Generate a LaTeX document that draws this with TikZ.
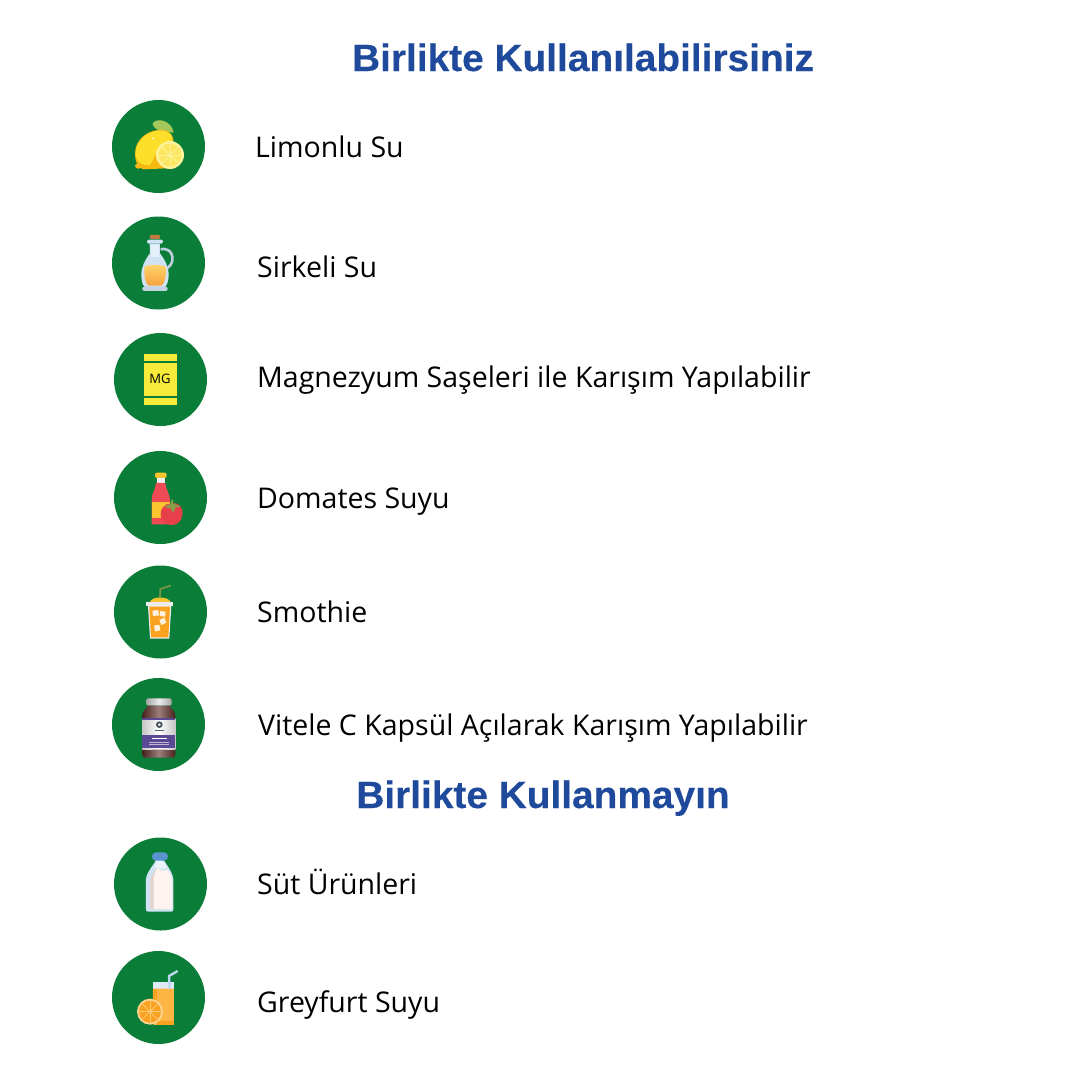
\documentclass[tikz,border=0pt]{standalone}
\usepackage{fontspec}
\setmainfont{Open Sans}
\newfontfamily\titlefont{Liberation Sans Bold}[FakeStretch=1.022,FakeBold=0.25]
\definecolor{grn}{HTML}{0A7D39}
\definecolor{ttl}{HTML}{1F4A9C}
\definecolor{lemA}{HTML}{FDDE2A}
\definecolor{lemB}{HTML}{F5B912}
\definecolor{lemC}{HTML}{FCF29A}
\definecolor{leafc}{HTML}{A5C85A}
\definecolor{glass}{HTML}{CFE3F5}
\definecolor{oil}{HTML}{FFD56B}
\definecolor{oilb}{HTML}{F7A23E}
\definecolor{cork}{HTML}{C27A3E}
\definecolor{mgy}{HTML}{F6EA3A}
\definecolor{ketch}{HTML}{EF4B55}
\definecolor{lab}{HTML}{FCC52F}
\definecolor{tom}{HTML}{E8404A}
\definecolor{orng}{HTML}{F9A21F}
\definecolor{orl}{HTML}{FDB643}
\definecolor{brn}{HTML}{5A2A24}
\definecolor{purp}{HTML}{5A4A96}
\definecolor{milk}{HTML}{FDF3EF}
\definecolor{capblue}{HTML}{5B93D1}
\tikzset{
 disc/.style={circle,fill=grn,draw=none,minimum size=93pt,inner sep=0pt},
 lbl/.style={anchor=base west,inner sep=0pt,text=black,font=\fontsize{28.5}{32}\selectfont},
 ttlb/.style={anchor=base,inner sep=0pt,text=ttl,font=\titlefont\fontsize{38}{42}\selectfont},
 zm/.style 2 args={shift={(#1,#2)},x=.3333pt,y=-.3333pt}
}
\begin{document}
\begin{tikzpicture}[x=1pt,y=-1pt]
\useasboundingbox (0,0) rectangle (1080,1080);
\fill[white] (0,0) rectangle (1080,1080);
\node[ttlb] (t1) at (583,71) {Birlikte Kullanılabilirsiniz};
\node[ttlb] (t2) at (543,808) {Birlikte Kullanmayın};
\node[disc] (c1) at (158.5,146.5) {};
\node[disc] (c2) at (158.5,263) {};
\node[disc] (c3) at (160.5,379.5) {};
\node[disc] (c4) at (160.5,497.5) {};
\node[disc] (c5) at (160.5,612) {};
\node[disc] (c6) at (158.5,724.5) {};
\node[disc] (c7) at (160.5,884) {};
\node[disc] (c8) at (158.5,997.5) {};
\node[lbl] (l1) at (255,157) {Limonlu Su};
\node[lbl] (l2) at (257,277) {Sirkeli Su};
\node[lbl] (l3) at (257,387) {Magnezyum Saşeleri ile Karışım Yapılabilir};
\node[lbl] (l4) at (257,508) {Domates Suyu};
\node[lbl] (l5) at (257,622) {Smothie};
\node[lbl] (l6) at (258,735) {Vitele C Kapsül Açılarak Karışım Yapılabilir};
\node[lbl] (l7) at (257,894) {Süt Ürünleri};
\node[lbl] (l8) at (257,1012) {Greyfurt Suyu};
% lemon
\begin{scope}[zm={100}{90}]
\fill[leafc] (158,100) .. controls (170,82) and (215,90) .. (221,128) .. controls (190,125) and (160,122) .. (158,100);
\fill[lemB] (105,226) .. controls (106,238) and (118,238) .. (126,232) -- (118,215) -- cycle;
\fill[lemB] (105,190) .. controls (105,145) and (150,115) .. (190,120) .. controls (215,125) and (222,140) .. (220,160) -- (200,235) -- (130,238) .. controls (115,235) and (105,215) .. (105,190);
\fill[lemA] (107,190) .. controls (107,148) and (150,118) .. (190,122) .. controls (208,125) and (218,135) .. (218,155) -- (180,170) .. controls (165,190) and (160,210) .. (150,225) .. controls (125,228) and (108,215) .. (107,190);
\fill[white] (160,145) circle (3);
\fill[lemC] (210,195) circle (42);
\fill[lemA!75!white] (210,195) circle (34);
\foreach \a in {0,45,...,315} \draw[lemC,line width=.8pt] (210,195) -- ++(\a:33);
\end{scope}
% oil jug
\begin{scope}[zm={100}{90}]
\draw[glass!80!gray,line width=2.6pt] (182,478) .. controls (225,468) and (230,530) .. (192,538);
\fill[cork,rounded corners=1pt] (150,435) rectangle (180,447);
\fill[glass,rounded corners=2pt] (141,449) rectangle (189,461);
\fill[glass] (149,461) -- (180,461) -- (180,490) .. controls (195,510) and (206,530) .. (206,555) .. controls (206,575) and (200,585) .. (195,592) -- (135,592) .. controls (128,585) and (124,575) .. (124,555) .. controls (124,530) and (135,510) .. (150,490) -- cycle;
\fill[glass!85!gray,rounded corners=2pt] (127,590) rectangle (203,603);
\fill[white!50!glass] (152,466) rectangle (178,500);
\shade[top color=oil,bottom color=oilb] (134,530) .. controls (150,523) and (180,523) .. (197,530) .. controls (199,560) and (195,578) .. (185,587) -- (145,587) .. controls (135,578) and (131,558) .. (134,530);
\end{scope}
% MG
\begin{scope}[zm={100}{325}]
\fill[mgy] (132,87) rectangle (231,108);
\fill[mgy] (132,114) rectangle (231,213);
\fill[mgy] (132,219) rectangle (231,241);
\node[inner sep=0pt,font=\fontsize{13}{14}\selectfont,text=black] (mg) at (180,163) {MG};
\end{scope}
% ketchup + tomato
\begin{scope}[zm={100}{325}]
\fill[lab,rounded corners=2pt] (165,443) rectangle (200,459);
\fill[white!88!gray] (170,459) rectangle (195,474);
\fill[ketch] (168,474) -- (196,474) .. controls (198,495) and (210,505) .. (210,530) -- (210,598) -- (155,598) -- (155,525) .. controls (155,505) and (166,495) .. (168,474);
\fill[lab] (155,530) rectangle (210,578);
\fill[tom] (215,535) .. controls (240,532) and (250,550) .. (247,570) .. controls (245,590) and (230,600) .. (215,600) .. controls (198,600) and (182,590) .. (182,567) .. controls (182,548) and (195,535) .. (215,535);
\fill[leafc!80!black] (192,545) -- (212,537) -- (215,523) -- (220,525) -- (219,536) -- (242,544) -- (226,548) -- (220,564) -- (212,550) -- cycle;
\end{scope}
% smoothie
\begin{scope}[zm={100}{560}]
\draw[leafc!75!black,line width=1.7pt] (180,112) -- (181,87) -- (212,77);
\fill[lab] (150,126) .. controls (155,108) and (205,108) .. (212,126) -- cycle;
\fill[white!85!gray] (138,126) rectangle (220,138);
\fill[white!85!gray] (144,138) -- (214,138) -- (208,236) -- (150,236) -- cycle;
\fill[orng] (148,140) -- (210,140) -- (205,232) -- (153,232) -- cycle;
\fill[white!85!orng] (157,152) -- (175,150) -- (177,166) -- (159,168) -- cycle;
\fill[white!85!orng] (180,153) -- (197,155) -- (195,170) -- (179,168) -- cycle;
\fill[white!85!orng] (178,180) -- (193,173) -- (199,188) -- (184,195) -- cycle;
\fill[white!85!orng] (162,197) -- (178,194) -- (181,211) -- (165,214) -- cycle;
\end{scope}
% vitamin bottle
\begin{scope}[zm={100}{560}]
\shade[left color=gray!70,right color=gray!70,middle color=white!85!gray,rounded corners=2pt] (139,415) rectangle (215,437);
\shade[left color=brn!80!black,right color=brn!80!black,middle color=brn!60!white] (143,437) -- (210,437) .. controls (215,450) and (226,450) .. (226,468) -- (226,585) -- (222,593) -- (132,593) -- (127,585) -- (127,468) .. controls (127,450) and (138,450) .. (143,437) -- cycle;
\shade[left color=gray!45,right color=gray!45,middle color=white] (127,475) rectangle (226,570);
\fill[purp] (127,475) rectangle (226,481);
\fill[purp] (127,526) rectangle (226,565);
\fill[black!70!cyan] (178,494) circle (10);
\fill[white] (178,494) circle (4);
\fill[black!60!cyan] (164,509) rectangle (192,513);
\fill[white] (155,533) rectangle (200,538);
\fill[white!60!purp] (147,546) rectangle (208,549);
\fill[white!60!purp] (147,553) rectangle (208,556);
\fill[white!80!black] (157,566) rectangle (198,570);
\end{scope}
% milk
\begin{scope}[zm={100}{830}]
\fill[glass,rounded corners=2pt] (168,90) -- (192,90) .. controls (200,105) and (220,130) .. (220,155) -- (220,245) -- (138,245) -- (138,155) .. controls (138,130) and (160,105) .. (168,90) -- cycle;
\fill[white!55!glass] (170,92) -- (192,92) -- (200,115) -- (162,115) -- cycle;
\fill[milk!85!brn] (150,237) -- (150,155) .. controls (152,140) and (162,125) .. (172,113) -- (190,125) -- (190,237) -- cycle;
\fill[milk] (162,237) -- (162,140) .. controls (165,130) and (168,120) .. (172,113) .. controls (185,124) and (198,124) .. (203,118) .. controls (210,130) and (216,142) .. (217,155) -- (217,237) -- cycle;
\fill[capblue,rounded corners=4pt] (156,67) rectangle (204,92);
\end{scope}
% juice
\begin{scope}[zm={100}{830}]
\fill[glass!70!white] (159,455) rectangle (222,476);
\fill[orl,rounded corners=1pt] (159,476) rectangle (222,585);
\fill[orng] (172,574) rectangle (222,585);
\fill[orng] (159,476) rectangle (172,512);
\draw[glass!85!capblue,line width=2.4pt] (209,476) -- (207,438) -- (233,423);
\fill[orl!60!white] (150,545) circle (39);
\fill[orng] (150,545) circle (33);
\foreach \a in {0,45,...,315} \draw[orl!70!white,line width=.6pt] (150,545) -- ++(\a:32);
\end{scope}
\end{tikzpicture}
\end{document}
